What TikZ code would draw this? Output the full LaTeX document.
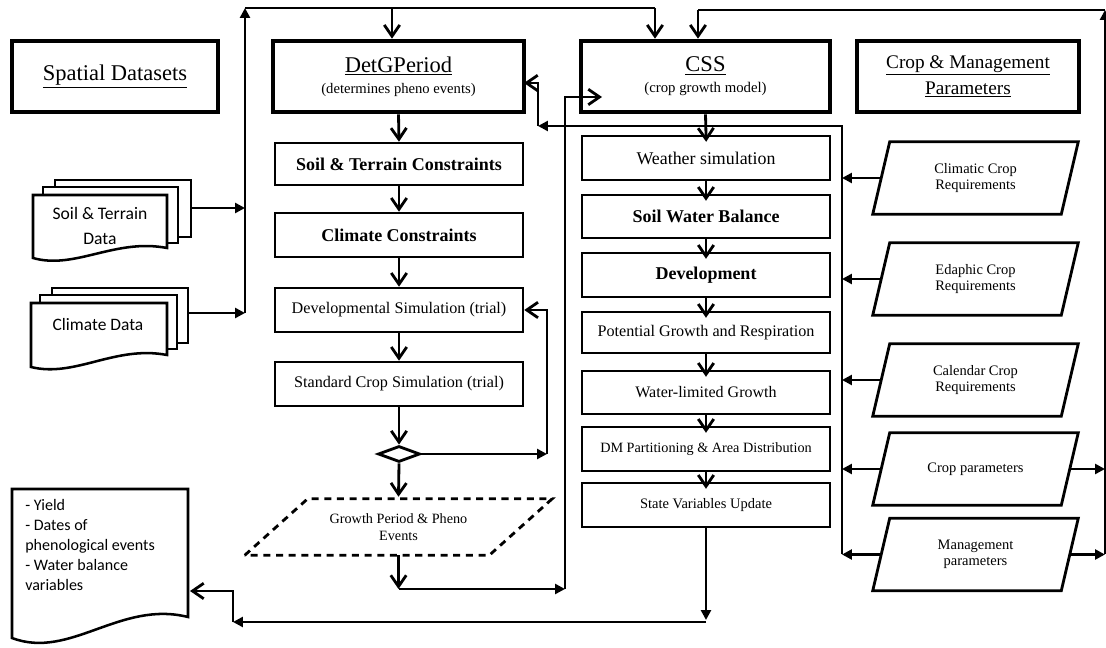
\documentclass[tikz,border=0pt]{standalone}
\usepackage{fontspec}
\setmainfont{Liberation Serif}
\newfontfamily\calib{Carlito}
\usetikzlibrary{arrows.meta,shapes.geometric,calc}
\newcommand{\fs}[2]{\fontsize{#1pt}{#2pt}\selectfont}
\tikzset{
  wh/.style 2 args={minimum width=#1*0.025cm, minimum height=#2*0.025cm},
  hdr/.style={draw, line width=3.3pt, inner sep=0pt, align=center},
  box/.style={draw, line width=1.8pt, inner sep=0pt, align=center, wh={248}{44}},
  para/.style={inner sep=0pt, align=center, wh={188}{72}, font=\fs{10.3}{11.6}},
  rim/.style={line width=2pt, line join=miter},
  flow/.style={line width=2pt, -{Straight Barb[length=8pt,width=11pt]}},
  feed/.style={line width=2pt, -{Triangle[length=7pt,width=7pt]}},
  into/.style={shorten >=-5pt},
  page/.style={line width=1.8pt, line join=miter},
}

\begin{document}
\begin{tikzpicture}[x=0.025cm, y=-0.025cm]
  \useasboundingbox (0,0) rectangle (1106,648);

  \node[hdr, wh={206}{71}, font=\fs{16}{19}] (spat) at (115,76.5) {\underline{Spatial Datasets}};
  \node[hdr, wh={251}{71}] (detg) at (398.5,76.5)
    {{\fs{16}{19}\underline{DetGPeriod}}\\[3pt]{\fs{10.4}{12}(determines pheno events)}};
  \node[hdr, wh={249}{71}] (css) at (705.5,76.5)
    {{\fs{16}{19}\underline{CSS}}\\[3pt]{\fs{10.5}{12}(crop growth model)}};
  \node[hdr, wh={222}{71}, font=\fs{13.7}{18.5}] (cmp) at (968,76.5)
    {\underline{Crop \& Management}\\\underline{Parameters}};

  % DetGPeriod chain
  \node[box, wh={248}{42}, font=\fs{12.8}{15}\bfseries] (soilc) at (399,164) {Soil \& Terrain Constraints};
  \node[box, font=\fs{12.8}{15}\bfseries] (climc) at (399,235) {Climate Constraints};
  \node[box, font=\fs{11.5}{14}] (devsim) at (399,310) {Developmental Simulation (trial)};
  \node[box, font=\fs{11.5}{14}] (stdsim) at (399,384) {Standard Crop Simulation (trial)};
  \node[draw, diamond, line width=2pt, inner sep=0pt, wh={42}{16}] (dec) at (399,454) {};
  \node[para, wh={244}{56}, font=\fs{10.1}{11.6}] (gpp) at (398.5,527) {Growth Period \& Pheno\\Events};
  \draw[rim, dashed, dash pattern=on 5pt off 4pt]
    ($(gpp.south west)+(-31.5,0)$) -- ($(gpp.north west)+(31.5,0)$) --
    ($(gpp.north east)+(31.5,0)$) -- ($(gpp.south east)+(-31.5,0)$) -- cycle;

  % CSS chain
  \node[box, font=\fs{12.7}{15}] (wsim) at (706,158) {Weather simulation};
  \node[box, wh={248}{43}, font=\fs{12.8}{15}\bfseries] (swb) at (706,216.5) {Soil Water Balance};
  \node[box, font=\fs{12.8}{15}\bfseries] (dvl) at (706,275) {Development};
  \node[box, wh={248}{41}, font=\fs{11.5}{14}] (pgr) at (706,332.5) {Potential Growth and Respiration};
  \node[box, wh={248}{43}, font=\fs{11.4}{14}] (wlg) at (706,392.5) {Water-limited Growth};
  \node[box, font=\fs{10.1}{12}] (dmp) at (706,449) {DM Partitioning \& Area Distribution};
  \node[box, font=\fs{10.3}{12}] (svu) at (706,505) {State Variables Update};

  % parameters
  \node[para] (clr) at (975.5,178) {Climatic Crop\\Requirements};
  \node[para] (edr) at (975.5,279) {Edaphic Crop\\Requirements};
  \node[para] (car) at (975.5,380) {Calendar Crop\\Requirements};
  \node[para] (cpar) at (975.5,469) {Crop parameters};
  \node[para] (mgmt) at (975.5,554.5) {Management\\parameters};
  \foreach \p in {clr, edr, car, cpar, mgmt}
    \draw[rim] ($(\p.south west)+(-8.5,0)$) -- ($(\p.north west)+(8.5,0)$) --
      ($(\p.north east)+(8.5,0)$) -- ($(\p.south east)+(-8.5,0)$) -- cycle;

  % data documents
  \draw[page] (55,187) -- (55,180) -- (191,180) -- (191,237) -- (178,237);
  \draw[page] (43,195) -- (43,187) -- (178,187) -- (178,243) -- (167,243);
  \draw[page] (33,258) -- (33,195) -- (167,195) -- (167,248) .. controls (115,238) and (75,270) .. cycle;
  \node[font=\calib\fs{12.5}{17.8}, align=center] (soild) at (100,225.5) {Soil \& Terrain\\Data};

  \draw[page] (52,295) -- (52,288) -- (188,288) -- (188,343) -- (177,343);
  \draw[page] (40,303) -- (40,295) -- (177,295) -- (177,349) -- (167,349);
  \draw[page] (31,367) -- (31,303) -- (167,303) -- (167,355) .. controls (115,345) and (75,378) .. cycle;
  \node[font=\calib\fs{12.4}{15}] (climd) at (98,325) {Climate Data};

  \draw[page] (12,638) -- (12,489) -- (188,489) -- (188,617) .. controls (120,600) and (70,660) .. cycle;
  \node[font=\calib\fs{11.4}{14.2}, align=left, anchor=north west, inner sep=0pt] (outd) at (25,499)
    {- Yield\\- Dates of\\phenological events\\- Water balance\\variables};

  \coordinate (spTop) at (245,8);
  \coordinate (detgIn) at (392,8);
  \coordinate (cssInA) at (655,8);
  \coordinate (cpTop) at (1105,10);
  \coordinate (cssInB) at (698,10);
  \coordinate (frTR) at (842,126);
  \coordinate (frTL) at (538,126);
  \coordinate (detgR) at (524,83);
  \coordinate (loopC) at (547,454);
  \coordinate (gpTurn) at (565,589);
  \coordinate (cssIn) at (602,97);
  \coordinate (outA) at (702,620);
  \coordinate (outB) at (233,622);
  \coordinate (outIn) at (190,591);
  \coordinate (soilOut) at (191,208);
  \coordinate (climOut) at (188,313);

  \draw[feed] (soilOut) -- (soilOut -| spTop);
  \draw[feed] (climOut) -- (climOut -| spTop);
  \draw[feed] (climOut -| spTop) -- (spTop);
  \draw[line width=2pt] (spTop) -- (cssInA);
  \draw[flow] (detgIn) -- (detgIn |- detg.north);
  \draw[flow] (cssInA) -- (cssInA |- css.north);

  \draw[flow] (detg.south) -- (soilc.north);
  \draw[flow] (soilc) -- (climc);
  \draw[flow] (climc) -- (devsim);
  \draw[flow] (devsim) -- (stdsim);
  \draw[flow] (stdsim) -- (dec);
  \draw[flow] (dec.south) -- ($(gpp.north)+(0,-2)$);
  \draw[feed] (dec.east) -- (loopC);
  \draw[flow] (loopC) |- (devsim.east);

  \draw[flow] (gpp.south) -- (gpp.south |- gpTurn);
  \draw[feed] (gpp.south |- gpTurn) -- (gpTurn);
  \draw[flow] (gpTurn) |- (cssIn);

  \foreach \a/\b in {css/wsim, wsim/swb, swb/dvl, dvl/pgr, pgr/wlg, wlg/dmp, dmp/svu}
    \draw[flow, into] (\a.south) -- (\b.north);

  \draw[feed] (svu.south) -- (svu.south |- outA);
  \draw[feed] (svu.south |- outB) -- (outB);
  \draw[flow] (outB) |- (outIn);

  \foreach \p in {clr, edr, car, cpar, mgmt}
    \draw[feed] (\p.west) -- (\p.west -| frTR);
  \draw[feed] (mgmt.west -| frTR) -- (frTR) -- (frTL);
  \draw[flow] (frTL) |- (detgR);

  \draw[feed] (cpar.east) -- (cpar.east -| cpTop);
  \draw[feed] (mgmt.east) -- (mgmt.east -| cpTop);
  \draw[feed] (mgmt.east -| cpTop) -- (cpTop);
  \draw[line width=2pt] (cpTop) -- (cssInB);
  \draw[flow] (cssInB) -- (cssInB |- css.north);
\end{tikzpicture}
\end{document}
